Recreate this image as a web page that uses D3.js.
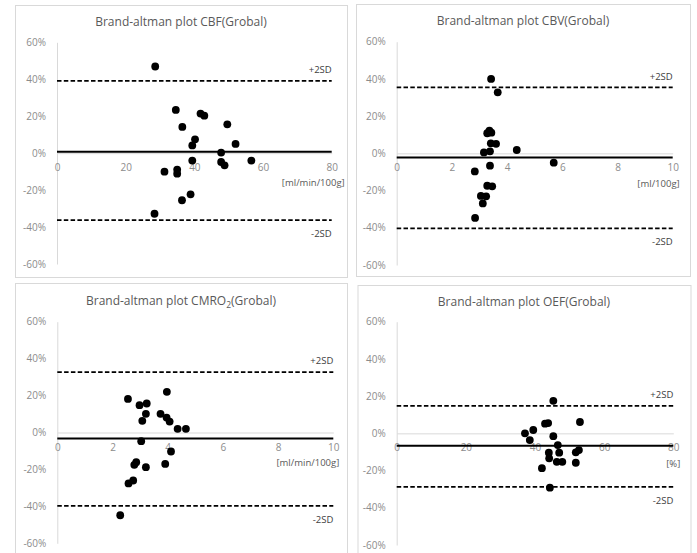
<!DOCTYPE html>
<html>
<head>
<meta charset="utf-8">
<script src="https://cdn.jsdelivr.net/npm/d3@7"></script>
<style>
  html, body { margin: 0; padding: 0; background: #ffffff; }
  svg { display: block; }
</style>
</head>
<body>
<svg id="chart" width="697" height="553"></svg>
<script>
// ---- Bland-Altman data: mean of two methods (x) and % difference (y) ----
const cbfMean = [28.6, 34.6, 36.5, 41.8, 42.9, 49.6, 40.2, 39.4, 52.0, 47.8, 39.4, 47.8, 48.8, 56.6, 31.3, 35.0, 35.0, 38.9, 36.4, 28.4];
const cbfDiff = [46.9, 23.4, 14.2, 21.4, 20.3, 15.6, 7.5, 4.2, 5.0, 0.3, -4.0, -4.8, -6.6, -4.0, -10.0, -8.9, -11.1, -22.3, -25.5, -32.8];
const cbfLimits = [0.8, 39.1, -36.2];          // mean bias, +2SD, -2SD

const cbvMean = [3.42, 3.66, 3.28, 3.36, 3.43, 3.41, 3.60, 3.16, 3.38, 4.35, 3.38, 5.69, 2.83, 3.28, 3.46, 3.05, 3.24, 3.12, 2.84];
const cbvDiff = [40.0, 32.8, 10.8, 12.2, 11.1, 5.4, 5.1, 0.5, 1.1, 1.8, -6.6, -5.0, -9.7, -17.4, -17.7, -22.9, -23.1, -26.9, -34.7];
const cbvLimits = [-2.2, 35.5, -40.3];

const cmroMean = [2.56, 2.98, 3.24, 3.21, 3.08, 3.74, 3.97, 3.96, 4.07, 4.36, 4.66, 3.04, 4.12, 2.86, 2.79, 3.91, 3.21, 2.58, 2.75, 2.28];
const cmroDiff = [18.2, 14.8, 15.7, 10.1, 6.3, 10.1, 22.0, 8.1, 5.9, 2.0, 2.0, -4.7, -10.3, -16.1, -17.5, -17.0, -18.8, -27.6, -26.0, -44.8];
const cmroLimits = [-3.2, 32.7, -39.7];

const oefMean = [45.3, 42.9, 43.8, 53.0, 37.1, 39.5, 38.5, 45.3, 46.6, 44.0, 47.0, 44.1, 46.3, 47.9, 42.0, 51.8, 51.8, 52.7, 44.3];
const oefDiff = [17.5, 5.2, 5.5, 6.1, 0.0, 1.8, -3.6, -1.5, -6.3, -10.4, -10.4, -13.4, -15.3, -15.3, -18.7, -15.8, -10.2, -9.0, -29.2];
const oefLimits = [-6.6, 14.7, -28.7];

// ---- axis ticks and labels ----
const yTicks = [-60, -40, -20, 0, 20, 40, 60];
const xTicksFlow = [0, 20, 40, 60, 80];
const xTicksSmall = [0, 2, 4, 6, 8, 10];
const titleNames = ["CBF", "CBV", "CMRO", "OEF"];
const unitLabels = ["[ml/min/100g]", "[ml/100g]", "[ml/min/100g]", "[%]"];
const limitLabels = ["+2SD", "-2SD"];

// ---- layout of the four panels ----
const panels = [
  { box: [15, 5, 332, 272],   plot: [57, 331.7, 42.3, 264],   xMax: 80, xTicks: xTicksFlow,  mean: cbfMean,  diff: cbfDiff,  lim: cbfLimits,  unitDx: 13, titleY: 22 },
  { box: [356, 4, 334, 272],  plot: [396.7, 672.7, 41.7, 265], xMax: 10, xTicks: xTicksSmall, mean: cbvMean,  diff: cbvDiff,  lim: cbvLimits,  unitDx: 7,  titleY: 21 },
  { box: [15, 283, 332, 280], plot: [57.3, 333.3, 321.7, 543.3], xMax: 10, xTicks: xTicksSmall, mean: cmroMean, diff: cmroDiff, lim: cmroLimits, unitDx: 6,  titleY: 301, sub: "2" },
  { box: [357.5, 285, 333, 280], plot: [396.7, 673.3, 321.7, 545], xMax: 80, xTicks: xTicksFlow, mean: oefMean, diff: oefDiff, lim: oefLimits, unitDx: 7, titleY: 302 }
];

const FONT = "'Open Sans', 'Noto Sans', sans-serif";
const svg = d3.select("#chart");

panels.forEach((p, i) => {
  const [bx, by, bw, bh] = p.box;
  const [x0, x1, yTop, yBot] = p.plot;
  const g = svg.append("g");

  // panel frame
  g.append("rect")
    .attr("x", bx + 0.5).attr("y", by + 0.5)
    .attr("width", bw).attr("height", bh)
    .attr("fill", "#ffffff").attr("stroke", "#d9d9d9").attr("stroke-width", 1);

  const x = d3.scaleLinear().domain([0, p.xMax]).range([x0, x1]);
  const y = d3.scaleLinear().domain([-60, 60]).range([yBot, yTop]);

  // title
  const title = g.append("text")
    .attr("x", bx + bw / 2).attr("y", p.titleY)
    .attr("dy", "0.35em")
    .attr("text-anchor", "middle")
    .attr("font-family", FONT).attr("font-size", 12)
    .attr("fill", "#595959");
  title.append("tspan").text("Brand-altman plot " + titleNames[i]);
  if (p.sub) {
    title.append("tspan").attr("font-size", 8.5).attr("dy", "0.35em").text(p.sub);
    title.append("tspan").attr("dy", "-0.25em").text("(Grobal)");
  } else {
    title.append("tspan").text("(Grobal)");
  }

  // vertical axis with percentage labels
  const yAxis = g.append("g")
    .attr("transform", `translate(${x0},0)`)
    .call(d3.axisLeft(y).tickValues(yTicks).tickSize(0).tickPadding(11)
      .tickFormat(d => d + "%"));
  yAxis.select(".domain").attr("stroke", "#d9d9d9").attr("stroke-width", 1);
  yAxis.selectAll("text").attr("font-family", FONT).attr("font-size", 10).attr("fill", "#8c8c8c");

  // horizontal axis crossing at 0%
  const xAxis = g.append("g")
    .attr("transform", `translate(0,${y(0)})`)
    .call(d3.axisBottom(x).tickValues(p.xTicks).tickSize(0).tickPadding(11));
  xAxis.select(".domain").attr("stroke", "#d9d9d9").attr("stroke-width", 1);
  xAxis.selectAll("text").attr("font-family", FONT).attr("font-size", 10).attr("fill", "#8c8c8c");

  // unit label
  g.append("text")
    .attr("x", x1 + p.unitDx).attr("y", y(0) + 30)
    .attr("dy", "0.35em")
    .attr("text-anchor", "end")
    .attr("font-family", FONT).attr("font-size", 9.5)
    .attr("fill", "#595959")
    .text(unitLabels[i]);

  // bias line and limits of agreement
  const [bias, upper, lower] = p.lim;
  g.append("line")
    .attr("x1", x0).attr("x2", x1)
    .attr("y1", y(bias)).attr("y2", y(bias))
    .attr("stroke", "#000000").attr("stroke-width", 2);
  [upper, lower].forEach(v => {
    g.append("line")
      .attr("x1", x0).attr("x2", x1)
      .attr("y1", y(v)).attr("y2", y(v))
      .attr("stroke", "#000000").attr("stroke-width", 1.75)
      .attr("stroke-dasharray", "4.5,2.3");
  });
  g.append("text")
    .attr("x", x1).attr("y", y(upper) - 11)
    .attr("dy", "0.35em").attr("text-anchor", "end")
    .attr("font-family", FONT).attr("font-size", 9.5).attr("fill", "#404040")
    .text(limitLabels[0]);
  g.append("text")
    .attr("x", x1).attr("y", y(lower) + 13.5)
    .attr("dy", "0.35em").attr("text-anchor", "end")
    .attr("font-family", FONT).attr("font-size", 9.5).attr("fill", "#404040")
    .text(limitLabels[1]);

  // scatter points
  g.append("g").selectAll("circle")
    .data(p.mean.map((m, k) => [m, p.diff[k]]))
    .join("circle")
    .attr("cx", d => x(d[0]))
    .attr("cy", d => y(d[1]))
    .attr("r", 3.9)
    .attr("fill", "#000000");
});
</script>
</body>
</html>
